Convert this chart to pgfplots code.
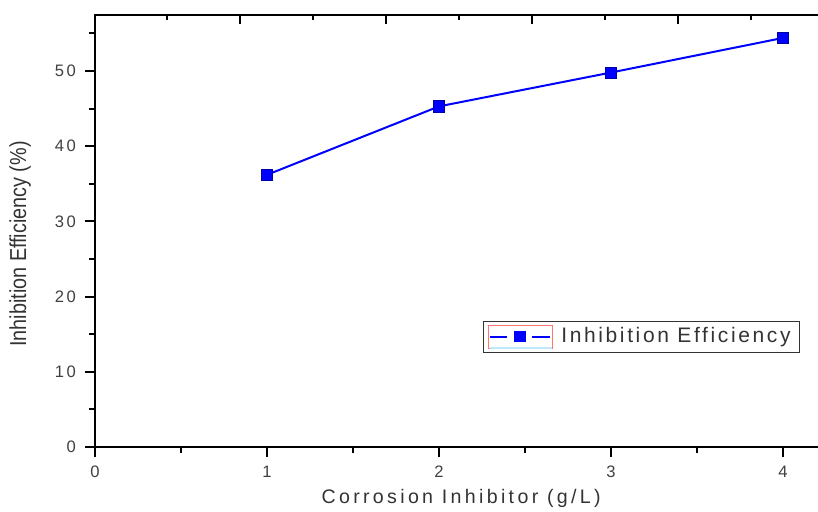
\documentclass[border=0pt]{standalone}
\usepackage{pgfplots}
\pgfplotsset{compat=1.18}
\usepackage{graphicx}
\usepackage{fontspec}
\setmainfont{Liberation Sans}
\begin{document}
\begin{tikzpicture}
\path[use as bounding box] (-47.5pt,-32pt) rectangle (361.5pt,223.5pt);
\clip (-47.5pt,-32pt) rectangle (361.5pt,223.5pt);
% main axis
\begin{axis}[
  at={(0pt,0pt)}, anchor=south west,
  scale only axis, width=362.5pt, height=216pt,
  xmin=0, xmax=4.215, ymin=0, ymax=57.45,
  xtick={0,1,2,3,4}, minor xtick={0.5,1.5,2.5,3.5},
  ytick={0,10,20,30,40,50}, minor ytick={5,15,25,35,45,55},
  xtick pos=left, ytick pos=left,
  tick align=outside,
  major tick length=5pt, minor tick length=3pt,
  every tick/.style={black, line width=1pt},
  axis line style={line width=1pt},
  /pgf/number format/assume math mode=true,
  ticklabel style={font=\fontsize{8.3}{9}\selectfont\addfontfeature{LetterSpace=15}, text=black!75},
  xticklabel style={yshift=-1pt},
  yticklabel style={xshift=-1pt},
  xlabel={Corrosion Inhibitor (g/L)},
  xlabel style={at={(axis description cs:0.505,-0.13)}, anchor=base,
    font=\fontsize{9.8}{11}\selectfont\addfontfeature{LetterSpace=17}, text=black!80},
  ylabel={\scalebox{0.9}[1.05]{\fontsize{11}{13}\selectfont Inhibition Efficiency (\%)}},
  ylabel style={at={(axis description cs:-0.1034,0.47)}, anchor=center, rotate=0, text=black!80},
  legend style={at={(axis description cs:0.9725,0.218)}, anchor=south east,
    draw=black!80, line width=0.5pt, inner xsep=2.5pt, inner ysep=1.2pt,
    font=\fontsize{10.5}{12}\selectfont\addfontfeature{LetterSpace=12.5},
    text=black!80,
    /tikz/every odd column/.append style={column sep=2pt}},
  legend cell align=left,
  legend image code/.code={
    \path[draw=red!55, line width=0.5pt] (0pt,-5.6pt) rectangle (32pt,5.6pt);
    \path[draw=cyan!25, line width=1pt] (0.5pt,-5.6pt) -- (31.5pt,-5.6pt);
    \path[draw=blue, line width=1pt] (0.5pt,0pt) -- (9pt,0pt);
    \path[draw=blue, line width=1pt] (21.5pt,0pt) -- (30.5pt,0pt);
    \path[fill=blue] (13pt,-2.3pt) rectangle (18pt,2.3pt);
  },
]
\addplot[blue, line width=1pt, mark=square*, mark size=2.8pt,
  mark options={fill=blue, draw=blue!65!black, line width=0.4pt}]
  coordinates {(1,36.2) (2,45.3) (3,49.8) (4,54.4)};
\addlegendentry{Inhibition Efficiency}
\end{axis}
% second scale: top and right ticks (axis in image pixel units)
\begin{axis}[
  at={(0pt,0pt)}, anchor=south west,
  scale only axis, width=362.5pt, height=216pt,
  xmin=95, xmax=820, ymin=-447, ymax=-15,
  axis line style={draw=none},
  xtick={240,386,532,678}, minor xtick={167,313,459,605,751},
  ytick=\empty, minor ytick={-102,-188,-275,-362},
  xtick pos=right, ytick pos=right,
  tick align=inside,
  major tick length=4.5pt, minor tick length=2.5pt,
  every tick/.style={black, line width=1pt},
  xticklabels={}, yticklabels={},
]
\addplot[draw=none] coordinates {(100,-100)};
\end{axis}
\end{tikzpicture}
\end{document}
